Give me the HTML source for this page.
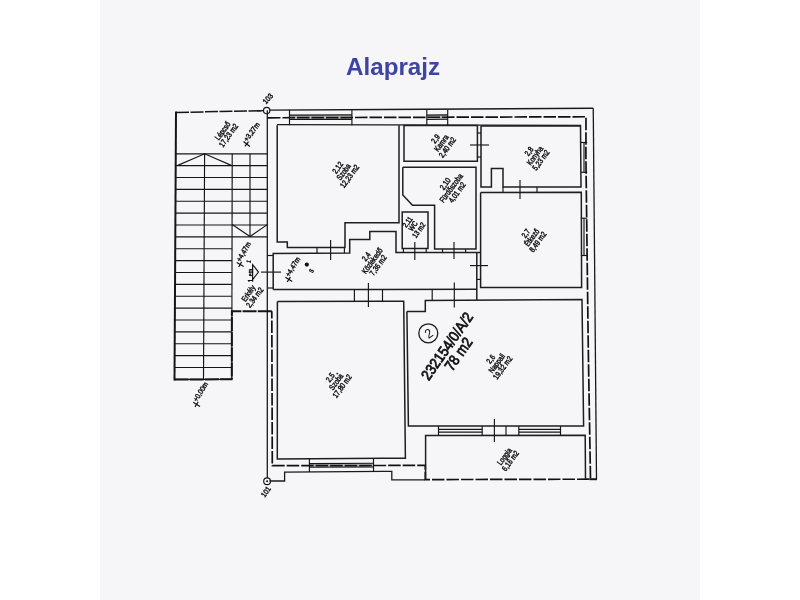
<!DOCTYPE html>
<html><head><meta charset="utf-8"><style>
html,body{margin:0;padding:0;background:#fff;}
body{width:800px;height:600px;position:relative;overflow:hidden;font-family:"Liberation Sans",sans-serif;}
#paper{position:absolute;left:100px;top:0;width:600px;height:600px;background:#f6f5f8;}
#title{position:absolute;left:345.5px;top:52.5px;font-size:24.2px;font-weight:bold;color:#3f43a4;letter-spacing:0px;will-change:transform;}
svg{position:absolute;left:0;top:0;will-change:transform;}
.t{stroke:#151515;stroke-width:1.15;fill:none;}
.t13{stroke:#1a1a1a;stroke-width:1.3;fill:none;}
.w{stroke:#1e1e1e;stroke-width:1.5;fill:none;}
.w2{stroke:#151515;stroke-width:2;fill:none;}
.d{stroke:#111;stroke-width:1.7;fill:none;stroke-dasharray:12.5 2;}
.dt{stroke:#151515;stroke-width:1.5;fill:none;stroke-dasharray:13 1.5;}
.dt2{stroke:#151515;stroke-width:2;fill:none;stroke-dasharray:14 1.2;}
.gl{fill:#b4b4b4;stroke:none;}
.tx{stroke:#111;stroke-width:1.2;fill:none;}
.fill{fill:#111;stroke:none;}
.lb{fill:#111;stroke:#111;stroke-width:0.45;font-family:"Liberation Sans",sans-serif;}
.bigb{fill:#111;stroke:#111;stroke-width:0.8;font-family:"Liberation Sans",sans-serif;}
.big{fill:#111;font-family:"Liberation Sans",sans-serif;}
</style></head><body>
<div id="paper"></div>
<div id="title">Alaprajz</div>
<svg width="800" height="600" viewBox="0 0 800 600">
<polyline class="dt" points="176,112.5 263.5,110.6"/>
<line class="t13" x1="257" y1="110.75" x2="263.6" y2="110.6"/>
<line class="w2" x1="176" y1="111.5" x2="174.5" y2="380.5"/>
<line class="dt2" x1="174.5" y1="379.5" x2="232.5" y2="379.3"/>
<line class="t" x1="175.76806439535756" y1="153.8" x2="267.3" y2="153.8"/>
<line class="t" x1="175.7014039685511" y1="165.67000000000002" x2="267.3" y2="165.67000000000002"/>
<line class="t" x1="175.63474354174465" y1="177.54000000000002" x2="267.3" y2="177.54000000000002"/>
<line class="t" x1="175.56808311493822" y1="189.41000000000003" x2="267.3" y2="189.41000000000003"/>
<line class="t" x1="175.50142268813178" y1="201.28" x2="267.3" y2="201.28"/>
<line class="t" x1="175.43476226132535" y1="213.15" x2="267.3" y2="213.15"/>
<line class="t" x1="175.3681018345189" y1="225.02" x2="267.3" y2="225.02"/>
<line class="t" x1="175.30144140771247" y1="236.89" x2="267.3" y2="236.89"/>
<line class="t" x1="175.23478098090604" y1="248.76" x2="232.03155654101997" y2="248.76"/>
<line class="t" x1="175.1681205540996" y1="260.63" x2="232.01050110864745" y2="260.63"/>
<line class="t" x1="175.10146012729314" y1="272.5" x2="231.98944567627495" y2="272.5"/>
<line class="t" x1="175.0347997004867" y1="284.37" x2="231.96839024390243" y2="284.37"/>
<line class="t" x1="174.96813927368026" y1="296.24" x2="231.94733481152994" y2="296.24"/>
<line class="t" x1="174.90147884687383" y1="308.11" x2="231.92627937915742" y2="308.11"/>
<line class="t" x1="174.8348184200674" y1="319.98" x2="231.90522394678493" y2="319.98"/>
<line class="t" x1="174.76815799326096" y1="331.85" x2="231.88416851441244" y2="331.85"/>
<line class="t" x1="174.70149756645452" y1="343.72" x2="231.86311308203992" y2="343.72"/>
<line class="t" x1="174.63483713964808" y1="355.59000000000003" x2="231.84205764966742" y2="355.59000000000003"/>
<line class="t" x1="174.56817671284162" y1="367.46000000000004" x2="231.8210022172949" y2="367.46000000000004"/>
<line class="t" x1="174.50151628603518" y1="379.33" x2="231.7999467849224" y2="379.33"/>
<line class="t" x1="204.6" y1="153.8" x2="203.5" y2="379.3"/>
<line class="t" x1="232.2" y1="153.8" x2="231.8" y2="379.3"/>
<line class="t" x1="250" y1="153.8" x2="250" y2="236.3"/>
<polyline class="t" points="232.2,224.6 250,236.5 267.3,224.6"/>
<polyline class="t" points="177.8,165.4 204.6,153.8 231.3,165.4"/>
<polygon class="t" points="252.6,264.7 258.5,272.1 252.6,279.6"/>
<line class="t" x1="261" y1="272.1" x2="281" y2="272.1"/>
<line class="t13" x1="267.3" y1="110.3" x2="267.3" y2="477.7"/>
<circle class="t" cx="266.7" cy="110.5" r="3.2"/>
<circle class="t" cx="267.1" cy="481.2" r="3.4"/>
<circle class="fill" cx="267.1" cy="481.2" r="1"/>
<line class="t" x1="267.5" y1="255.5" x2="273.2" y2="255.5"/>
<line class="t" x1="267.5" y1="288" x2="273.2" y2="288"/>
<line class="t13" x1="269.5" y1="110.2" x2="593.25" y2="108.25"/>
<line class="t13" x1="277" y1="124.7" x2="581" y2="125.3"/>
<rect class="gl" x="289.5" y="115.1" width="62.39999999999998" height="4.4"/>
<line class="t" x1="289.5" y1="109.8" x2="289.5" y2="125.2"/>
<line class="t" x1="351.9" y1="109.6" x2="351.9" y2="125.3"/>
<line class="t" x1="289.5" y1="115.1" x2="351.9" y2="114.9"/>
<line class="t" x1="289.5" y1="119.5" x2="351.9" y2="119.3"/>
<rect class="gl" x="426.8" y="115.1" width="20.899999999999977" height="4.4"/>
<line class="t" x1="426.8" y1="109.8" x2="426.8" y2="125.2"/>
<line class="t" x1="447.7" y1="109.6" x2="447.7" y2="125.3"/>
<line class="t" x1="426.8" y1="115.1" x2="447.7" y2="114.9"/>
<line class="t" x1="426.8" y1="119.5" x2="447.7" y2="119.3"/>
<line class="t13" x1="593.25" y1="108.25" x2="596.5" y2="479.3"/>
<line class="w2" x1="589.5" y1="479.2" x2="597" y2="479.2"/>
<polyline class="t" points="580.8,142.5 587.2,142.5"/>
<polyline class="t" points="580.8,172.3 587.2,172.3"/>
<line class="t" x1="584" y1="142.5" x2="584" y2="172.3"/>
<polyline class="t" points="580.8,218.2 587.2,218.2"/>
<polyline class="t" points="580.8,255.5 587.2,255.5"/>
<line class="t" x1="584" y1="218.2" x2="584" y2="255.5"/>
<polyline class="t13" points="269.5,481 284.6,481 284.6,472.2 391.8,471.4 391.8,479.8 425,479.8"/>
<rect class="gl" x="309.4" y="463.4" width="64.1" height="3.8"/>
<line class="t" x1="309.4" y1="459" x2="309.4" y2="472"/>
<line class="t" x1="373.5" y1="458.5" x2="373.5" y2="471.6"/>
<line class="t" x1="309.4" y1="463.6" x2="373.5" y2="463.3"/>
<line class="t" x1="309.4" y1="467.3" x2="373.5" y2="467"/>
<polyline class="d" points="268,117.8 586,116.75 585.9,157 588.3,350 590.5,479.2 425.3,479.6 425.3,465.4 272.3,465.7 271.8,311.3"/>
<polyline class="dt2" points="271.8,311.3 231.9,311.3 231.8,379.3"/>
<polyline class="w" points="277.2,125.3 277.2,242 287.3,242 287.3,247.5 345,247.5 345,222.8 399,222.8 399,125.3"/>
<polygon class="w" points="404,125.5 477.4,125.5 477.4,161.3 404,161.3"/>
<polyline class="w" points="402.8,167.3 476,167.3 476,249 434.6,249 434.6,205.3 412.5,205.3 402.8,195 402.8,167.3"/>
<polygon class="w" points="402.2,211.9 428,211.9 428,248.4 402.2,248.4"/>
<polyline class="w" points="481,126 580.5,125.8 581,187 503,187 503,168.6 491.4,168.6 491.4,187 481,187 481,126"/>
<polyline class="w" points="480.6,192.4 581.3,192.2 581.6,287.4 480.6,287.4 480.6,192.4"/>
<polyline class="w" points="273.2,289.5 273.2,253.4 349.7,253 349.7,239.6 369.8,239.6 369.8,231.6 396,231.6 396,252.6 481,252.4"/>
<line class="w" x1="476.8" y1="252.4" x2="476.8" y2="300.2"/>
<line class="t" x1="476.8" y1="279.4" x2="481" y2="279.4"/>
<line class="w" x1="273.2" y1="289.5" x2="476.6" y2="289.3"/>
<polyline class="w" points="277.4,301.5 403.7,301.3 405.4,458.2 277.3,459 277.4,301.5"/>
<polyline class="w" points="406.9,311.6 425.3,311.6 425.3,300.4 582,299.4 583.6,426 408.4,426.1 406.9,311.6"/>
<polyline class="w" points="425.6,479.4 425.6,435.4 585.2,435.2 585.5,479"/>
<line class="t" x1="317" y1="247.5" x2="317" y2="253"/>
<line class="t" x1="330.6" y1="240" x2="330.6" y2="260"/>
<line class="t" x1="344.4" y1="247.5" x2="344.4" y2="253"/>
<line class="t" x1="414.8" y1="242" x2="414.8" y2="260"/>
<line class="t" x1="403.4" y1="248.4" x2="403.4" y2="252.4"/>
<line class="t" x1="426.2" y1="248.4" x2="426.2" y2="252.4"/>
<line class="t" x1="442.5" y1="249" x2="442.5" y2="252.6"/>
<line class="t" x1="465.6" y1="249" x2="465.6" y2="252.6"/>
<line class="t" x1="454" y1="242" x2="454" y2="259"/>
<line class="t" x1="470" y1="145" x2="489" y2="145"/>
<line class="t" x1="477.4" y1="133" x2="481" y2="133"/>
<line class="t" x1="477.4" y1="157" x2="481" y2="157"/>
<line class="t" x1="537" y1="187" x2="537" y2="192.3"/>
<line class="t" x1="520" y1="180" x2="520" y2="199"/>
<line class="t" x1="503" y1="187" x2="503" y2="192.3"/>
<line class="t" x1="470" y1="265.6" x2="488" y2="265.6"/>
<line class="t" x1="354.4" y1="289.5" x2="354.4" y2="301.4"/>
<line class="t" x1="382.5" y1="289.5" x2="382.5" y2="301.4"/>
<line class="t" x1="368.4" y1="283" x2="368.4" y2="307"/>
<line class="t" x1="432.2" y1="289.5" x2="432.2" y2="300.2"/>
<line class="t" x1="454.3" y1="282.5" x2="454.3" y2="307.5"/>
<line class="t" x1="438.5" y1="426.1" x2="438.5" y2="435.4"/>
<line class="t" x1="482.2" y1="426.1" x2="482.2" y2="435.4"/>
<line class="t" x1="506" y1="426.1" x2="506" y2="435.4"/>
<line class="t" x1="518.8" y1="426.1" x2="518.8" y2="435.4"/>
<line class="t" x1="560.5" y1="426.1" x2="560.5" y2="435.4"/>
<line class="t" x1="438.5" y1="429.3" x2="482.2" y2="429.3"/>
<line class="t" x1="438.5" y1="432.1" x2="482.2" y2="432.1"/>
<line class="t" x1="518.8" y1="429.3" x2="560.5" y2="429.3"/>
<line class="t" x1="518.8" y1="432.1" x2="560.5" y2="432.1"/>
<line class="t" x1="494.4" y1="419" x2="494.4" y2="442"/>
<g transform="translate(225.5,133) rotate(-54) scale(0.8,1)"><text class="lb" font-size="8" text-anchor="middle" font-weight="normal"><tspan x="0" y="-0.82">Lépcső</tspan><tspan x="0" y="6.58">17,23 m2</tspan></text></g>
<line class="tx" x1="244.89455493054385" y1="146.39590653014187" x2="248.50544506945613" y2="141.60409346985813"/>
<line class="tx" x1="243.50545795981083" y1="141.5927399073918" x2="249.89454204018915" y2="146.4072600926082"/>
<g transform="translate(246.7,144) rotate(-53) translate(2,-0.8) scale(0.85,1)"><text class="lb" font-size="7.5">+3,27m</text></g>
<g transform="translate(343.5,171.8) rotate(-54) scale(0.8,1)"><text class="lb" font-size="8" text-anchor="middle" font-weight="normal"><tspan x="0" y="-4.52">2,12</tspan><tspan x="0" y="2.88">Szoba</tspan><tspan x="0" y="10.28">12,23 m2</tspan></text></g>
<g transform="translate(441.3,143) rotate(-54) scale(0.8,1)"><text class="lb" font-size="8" text-anchor="middle" font-weight="normal"><tspan x="0" y="-4.52">2,9</tspan><tspan x="0" y="2.88">Kamra</tspan><tspan x="0" y="10.28">2,40 m2</tspan></text></g>
<g transform="translate(534.8,155.6) rotate(-54) scale(0.8,1)"><text class="lb" font-size="8" text-anchor="middle" font-weight="normal"><tspan x="0" y="-4.52">2,8</tspan><tspan x="0" y="2.88">Konyha</tspan><tspan x="0" y="10.28">5,23 m2</tspan></text></g>
<g transform="translate(451,188) rotate(-54) scale(0.8,1)"><text class="lb" font-size="8" text-anchor="middle" font-weight="normal"><tspan x="0" y="-4.52">2,10</tspan><tspan x="0" y="2.88">Fürdőszoba</tspan><tspan x="0" y="10.28">4,01 m2</tspan></text></g>
<g transform="translate(413,226) rotate(-54) scale(0.8,1)"><text class="lb" font-size="7.6" text-anchor="middle" font-weight="normal"><tspan x="0" y="-4.26">2,11</tspan><tspan x="0" y="2.74">WC</tspan><tspan x="0" y="9.74">13 m2</tspan></text></g>
<g transform="translate(531.7,237.5) rotate(-54) scale(0.8,1)"><text class="lb" font-size="8" text-anchor="middle" font-weight="normal"><tspan x="0" y="-4.52">2,7</tspan><tspan x="0" y="2.88">Étkező</tspan><tspan x="0" y="10.28">8,49 m2</tspan></text></g>
<g transform="translate(372.1,260.8) rotate(-54) scale(0.8,1)"><text class="lb" font-size="8" text-anchor="middle" font-weight="normal"><tspan x="0" y="-4.52">2,4</tspan><tspan x="0" y="2.88">Közlekedő</tspan><tspan x="0" y="10.28">7,36 m2</tspan></text></g>
<line class="tx" x1="238.7" y1="266.9980762113533" x2="241.7" y2="261.80192378864666"/>
<line class="tx" x1="236.73589838486222" y1="262.4" x2="243.66410161513775" y2="266.4"/>
<g transform="translate(240.2,264.4) rotate(-60) translate(2,-0.8) scale(0.85,1)"><text class="lb" font-size="7.5">+4,47m</text></g>
<line class="tx" x1="287.2102422073004" y1="281.94414428846926" x2="290.38975779269964" y2="276.8558557115307"/>
<line class="tx" x1="285.4078076153743" y1="277.2803229430672" x2="292.19219238462574" y2="281.5196770569328"/>
<g transform="translate(288.8,279.4) rotate(-58) translate(2,-0.8) scale(0.85,1)"><text class="lb" font-size="7.5">+4,47m</text></g>
<g transform="translate(248.3,293.3) rotate(-55) scale(0.8,1)"><text class="lb" font-size="8" text-anchor="middle" font-weight="normal"><tspan x="0" y="2.88">Erkély</tspan></text></g>
<g transform="translate(254.6,297.4) rotate(-53) scale(0.8,1)"><text class="lb" font-size="8" text-anchor="middle" font-weight="normal"><tspan x="0" y="2.88">2,34 m2</tspan></text></g>
<g transform="translate(250.4,275.5) rotate(-90) scale(0.8,1)"><text class="lb" font-size="6.5" text-anchor="middle" font-weight="normal"><tspan x="0" y="2.34">1, em</tspan></text></g>
<g transform="translate(248.5,261.3) rotate(-75) scale(0.8,1)"><text class="lb" font-size="6" text-anchor="middle" font-weight="normal"><tspan x="0" y="2.16">1</tspan></text></g>
<g transform="translate(336,381.7) rotate(-54) scale(0.8,1)"><text class="lb" font-size="8" text-anchor="middle" font-weight="normal"><tspan x="0" y="-4.52">2,5</tspan><tspan x="0" y="2.88">Szoba</tspan><tspan x="0" y="10.28">17,80 m2</tspan></text></g>
<g transform="translate(496.6,363.3) rotate(-54) scale(0.8,1)"><text class="lb" font-size="8" text-anchor="middle" font-weight="normal"><tspan x="0" y="-4.52">2,6</tspan><tspan x="0" y="2.88">Nappali</tspan><tspan x="0" y="10.28">19,32 m2</tspan></text></g>
<g transform="translate(507.3,458.5) rotate(-54) scale(0.8,1)"><text class="lb" font-size="8" text-anchor="middle" font-weight="normal"><tspan x="0" y="-0.82">Loggia</tspan><tspan x="0" y="6.58">6,16 m2</tspan></text></g>
<line class="tx" x1="195.0102422073004" y1="406.8441442884693" x2="198.1897577926996" y2="401.7558557115307"/>
<line class="tx" x1="193.2078076153743" y1="402.1803229430672" x2="199.9921923846257" y2="406.4196770569328"/>
<g transform="translate(196.6,404.3) rotate(-58) translate(2,-0.8) scale(0.85,1)"><text class="lb" font-size="7.5">+0,00m</text></g>
<g transform="translate(452.5,350) rotate(-55) scale(0.88,1)"><text class="bigb" font-size="15" text-anchor="middle" font-weight="normal"><tspan x="0" y="-1.60">232154/0/A/2</tspan><tspan x="0" y="12.40">78 m2</tspan></text></g>
<circle class="t13" cx="428.3" cy="333.3" r="9.5"/>
<g transform="translate(428.5,333.3) rotate(-35) scale(0.95,1)"><text class="big" font-size="13" text-anchor="middle" font-weight="normal"><tspan x="0" y="4.68">2</tspan></text></g>
<g transform="translate(267.8,98.6) rotate(-48) scale(0.9,1)"><text class="lb" font-size="7.5" text-anchor="middle" font-weight="normal"><tspan x="0" y="2.70">103</tspan></text></g>
<g transform="translate(265.8,491.7) rotate(-55) scale(0.9,1)"><text class="lb" font-size="7.5" text-anchor="middle" font-weight="normal"><tspan x="0" y="2.70">101</tspan></text></g>
<circle class="fill" cx="306.8" cy="264.6" r="2.1"/>
<circle class="fill" cx="337.3" cy="373.6" r="0.9"/>
<g transform="translate(310.9,270.3) rotate(-60) scale(0.8,1)"><text class="lb" font-size="8" text-anchor="middle" font-weight="normal"><tspan x="0" y="2.88">s</tspan></text></g>
</svg>
</body></html>
